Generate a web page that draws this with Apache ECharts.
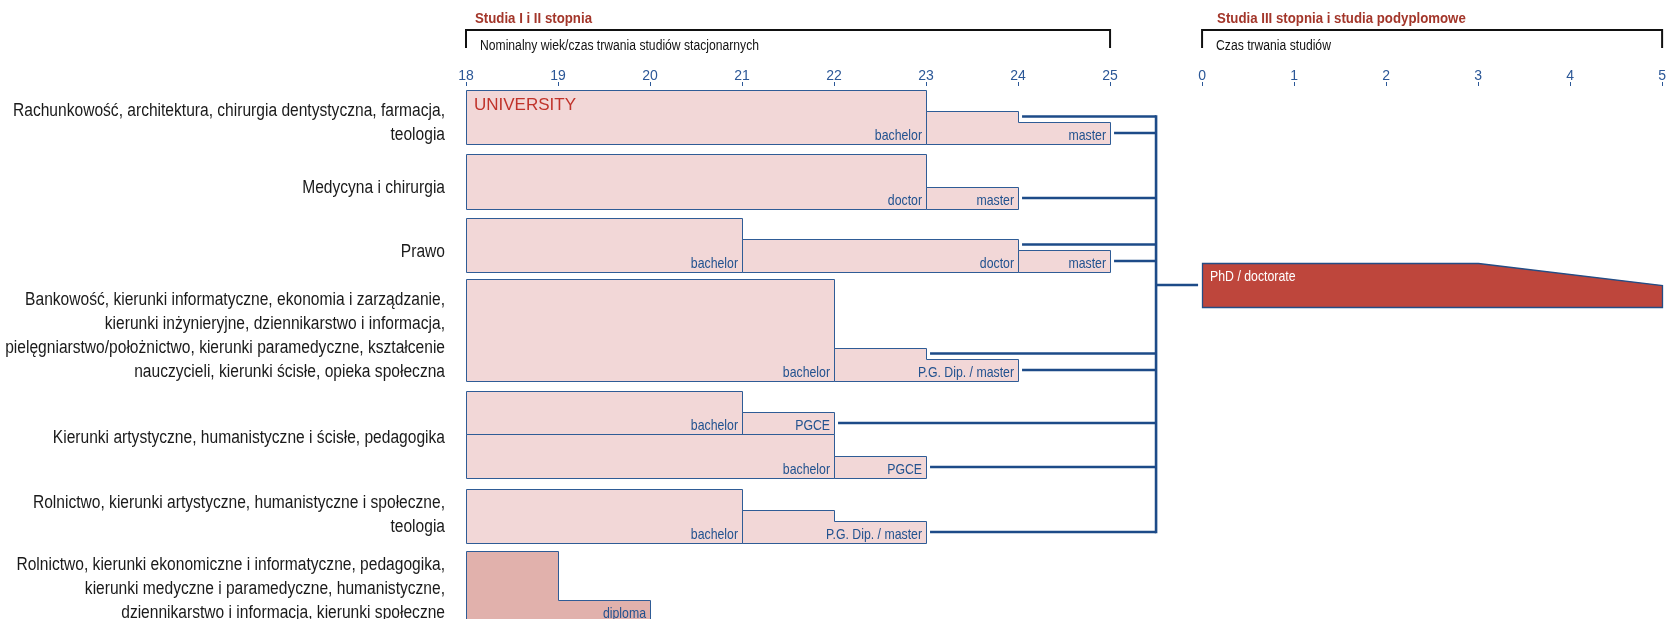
<!DOCTYPE html>
<html>
<head>
<meta charset="utf-8">
<script src="https://cdn.jsdelivr.net/npm/echarts@6/dist/echarts.min.js"></script>
<style>
  html, body { margin: 0; padding: 0; background: #fff; }
  #chart { width: 1669px; height: 619px; }
</style>
</head>
<body>
<div id="chart"></div>
<script>
// fields of study (left labels)
const fields = [
  'Rachunkowość, architektura, chirurgia dentystyczna, farmacja,\nteologia',
  'Medycyna i chirurgia',
  'Prawo',
  'Bankowość, kierunki informatyczne, ekonomia i zarządzanie,\nkierunki inżynieryjne, dziennikarstwo i informacja,\npielęgniarstwo/położnictwo, kierunki paramedyczne, kształcenie\nnauczycieli, kierunki ścisłe, opieka społeczna',
  'Kierunki artystyczne, humanistyczne i ścisłe, pedagogika',
  'Rolnictwo, kierunki artystyczne, humanistyczne i społeczne,\nteologia',
  'Rolnictwo, kierunki ekonomiczne i informatyczne, pedagogika,\nkierunki medyczne i paramedyczne, humanistyczne,\ndziennikarstwo i informacja, kierunki społeczne'
];
// which field each bar belongs to
const barField = [0, 1, 2, 3, 4, 4, 5, 6];
const startAge = 18;
// age at which each step of a bar ends
const stepEnds = [
  [23, 24, 25],
  [23, 24],
  [21, 24, 25],
  [22, 23, 24],
  [21, 22],
  [22, 23],
  [21, 22, 23],
  [19, 20]
];
const stepLabels = [
  ['bachelor', '', 'master'],
  ['doctor', 'master'],
  ['bachelor', 'doctor', 'master'],
  ['bachelor', '', 'P.G. Dip. / master'],
  ['bachelor', 'PGCE'],
  ['bachelor', 'PGCE'],
  ['bachelor', '', 'P.G. Dip. / master'],
  ['', 'diploma']
];
// steps that lead on to doctoral studies
const exitSteps = [[1, 2], [1], [1, 2], [1, 2], [1], [1], [2], []];
const ageMax = 25;
const phdYears = [3, 5];   // min / max duration
const durationMax = 5;

// layout (y in pixels)
const barTop = [90, 154, 218, 279, 391, 434, 489, 551];
const barBottom = [144, 209, 272, 381, 434, 478, 543, 622];
const fieldLabelY = [123, 188, 252, 336, 438, 515, 589];
const phdBand = [263, 307];

const navy = '#2b5797';
const lineNavy = '#1d4b88';
const arial = "'Liberation Sans', Arial, sans-serif";
const durStart = ageMax + 1;       // 0 on the duration scale
const hubX = ageMax + 0.5;

const px = v => Math.round(v) + 0.5;

// the original uses a condensed face; squeeze Liberation Sans to match
const measureCtx = document.createElement('canvas').getContext('2d');
function textWidth(t, font) { measureCtx.font = font; return measureCtx.measureText(t).width; }
const fieldFont = '18px ' + arial;
const fieldScale = 432 / textWidth(fields[0].split('\n')[0], fieldFont);
const titleFont = 'bold 15px ' + arial;
const titleScale = 117 / textWidth('Studia I i II stopnia', titleFont);
const subFont = '14px ' + arial;
const subScale = 279 / textWidth('Nominalny wiek/czas trwania studiów stacjonarnych', subFont);
const narrowScale = 0.82;

function levelTops(i) {
  const n = stepEnds[i].length, b = barBottom[i];
  if (n === 2) return [barTop[i], b - 22];
  return [barTop[i], b - 33, b - 22];
}

function squeezed(text, x, y, scale, style) {
  return {
    type: 'text', x: x, y: y, scaleX: scale,
    style: Object.assign({ text: text, x: 0, y: 0 }, style)
  };
}

function renderBar(params, api) {
  const i = params.dataIndex;
  const ends = stepEnds[i], labels = stepLabels[i], tops = levelTops(i);
  const bottom = barBottom[i];
  const fill = barField[i] === 6 ? '#e1b1ac' : '#f2d7d7';
  const children = [];
  let boxStart = startAge, first = 0;
  labels.forEach((lab, k) => {
    if (lab === '' && k < labels.length - 1) return;
    const pts = [];
    let x0 = boxStart;
    for (let j = first; j <= k; j++) {
      pts.push(api.coord([x0, tops[j]]));
      pts.push(api.coord([ends[j], tops[j]]));
      x0 = ends[j];
    }
    pts.push(api.coord([ends[k], bottom]));
    pts.push(api.coord([boxStart, bottom]));
    children.push({
      type: 'polygon',
      shape: { points: pts.map(p => [px(p[0]), px(p[1])]) },
      style: { fill: fill, stroke: '#2f5c96', lineWidth: 1 }
    });
    if (lab) {
      const p = api.coord([ends[k], bottom]);
      children.push(squeezed(lab, p[0] - 4, p[1] - 1, narrowScale, {
        align: 'right', verticalAlign: 'bottom', fill: '#22528f', font: '15px ' + arial
      }));
    }
    boxStart = ends[k];
    first = k + 1;
  });
  return { type: 'group', children: children };
}

function renderFieldLabel(params, api) {
  const f = params.dataIndex;
  const p = api.coord([startAge, fieldLabelY[f]]);
  return squeezed(fields[f], p[0] - 21, p[1], fieldScale, {
    align: 'right', verticalAlign: 'middle', fill: '#1a1a1a', font: fieldFont, lineHeight: 24
  });
}

function renderLinks(params, api) {
  const children = [];
  const line = (a, b, w, c) => children.push({
    type: 'line', shape: { x1: a[0], y1: a[1], x2: b[0], y2: b[1] },
    style: { stroke: c || lineNavy, lineWidth: w || 2.6 }
  });
  const hubPx = api.coord([hubX, 0])[0];
  let yMin = Infinity, yMax = -Infinity;
  exitSteps.forEach((steps, i) => {
    const tops = levelTops(i);
    steps.forEach(k => {
      const yb = k + 1 < tops.length ? tops[k + 1] : barBottom[i];
      const p = api.coord([stepEnds[i][k], (tops[k] + yb) / 2]);
      line([p[0] + 4, p[1]], [hubPx, p[1]]);
      yMin = Math.min(yMin, p[1]);
      yMax = Math.max(yMax, p[1]);
    });
  });
  line([hubPx, yMin - 1.3], [hubPx, yMax + 1.3]);

  // PhD box
  const phdMid = (phdBand[0] + phdBand[1]) / 2;
  const ps = api.coord([durStart, phdMid]);
  line([hubPx, ps[1]], [ps[0] - 4, ps[1]]);
  const pts = [
    api.coord([durStart, phdBand[0]]),
    api.coord([durStart + phdYears[0], phdBand[0]]),
    api.coord([durStart + phdYears[1], phdMid]),
    api.coord([durStart + phdYears[1], phdBand[1]]),
    api.coord([durStart, phdBand[1]])
  ];
  children.push({
    type: 'polygon', shape: { points: pts.map(p => [px(p[0]), px(p[1])]) },
    style: { fill: '#be463c', stroke: '#244d85', lineWidth: 1.3 }
  });
  const pl = api.coord([durStart, phdBand[0]]);
  children.push(squeezed('PhD / doctorate', pl[0] + 8, pl[1] + 13.5, narrowScale, {
    verticalAlign: 'middle', fill: '#fff', font: '15px ' + arial
  }));

  // UNIVERSITY tag
  const pu = api.coord([startAge, barTop[0]]);
  children.push({
    type: 'text',
    style: { text: 'UNIVERSITY', x: pu[0] + 8, y: pu[1] + 15.5, verticalAlign: 'middle',
      fill: '#c0332b', font: '17px ' + arial }
  });

  // header brackets
  const bracket = (x0, x1, title, sub, titleOff) => {
    const a = api.coord([x0, 30]), b = api.coord([x1, 30]), c = api.coord([x0, 48]);
    line([a[0], a[1]], [b[0], b[1]], 2, '#111');
    line([a[0], a[1] - 1], [a[0], c[1]], 2, '#111');
    line([b[0], b[1] - 1], [b[0], c[1]], 2, '#111');
    children.push(squeezed(title, a[0] + titleOff, 19, titleScale, {
      verticalAlign: 'middle', fill: '#a3362a', font: titleFont
    }));
    children.push(squeezed(sub, a[0] + 14, 46, subScale, {
      verticalAlign: 'middle', fill: '#111', font: subFont
    }));
  };
  bracket(startAge, ageMax, 'Studia I i II stopnia', 'Nominalny wiek/czas trwania studiów stacjonarnych', 9);
  bracket(durStart, durStart + durationMax, 'Studia III stopnia i studia podyplomowe', 'Czas trwania studiów', 15);
  return { type: 'group', children: children };
}

const chart = echarts.init(document.getElementById('chart'));
chart.setOption({
  animation: false,
  grid: { left: 466, right: 3, top: 82, bottom: 0 },
  xAxis: {
    type: 'value', position: 'top',
    min: startAge, max: durStart + durationMax, interval: 1,
    axisLine: { show: false },
    axisTick: { show: true, inside: true, length: 4, lineStyle: { color: navy } },
    splitLine: { show: false },
    axisLabel: {
      margin: -1, color: navy, fontSize: 14, fontFamily: arial,
      formatter: v => v <= ageMax ? String(v) : String(v - durStart)
    }
  },
  yAxis: { type: 'value', min: 82, max: 619, inverse: true, show: false },
  series: [
    {
      type: 'custom', renderItem: renderBar, clip: false,
      data: stepEnds.map((e, i) => [startAge, e[e.length - 1], i]),
      encode: { x: [0, 1], y: 2 }
    },
    {
      type: 'custom', renderItem: renderFieldLabel, clip: false,
      data: fields.map((f, i) => [startAge, i]),
      encode: { x: 0, y: 1 }
    },
    {
      type: 'custom', renderItem: renderLinks, clip: false,
      data: [[hubX, 300]],
      encode: { x: 0, y: 1 }
    }
  ]
});
</script>
</body>
</html>
